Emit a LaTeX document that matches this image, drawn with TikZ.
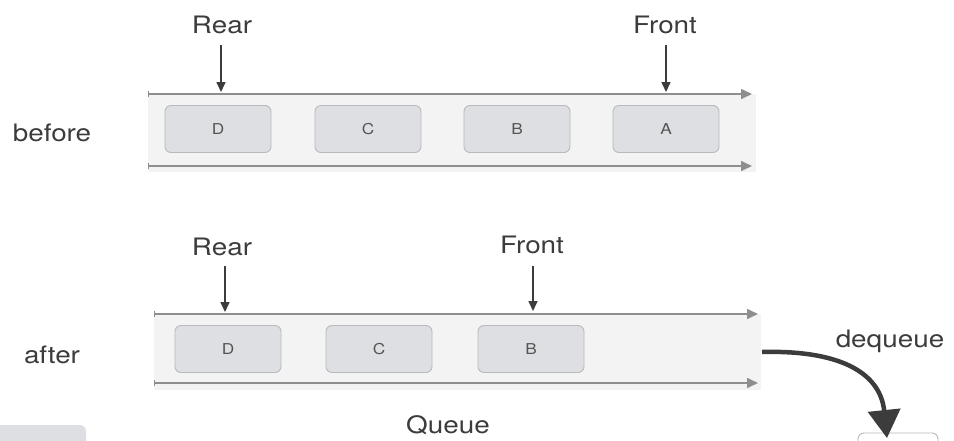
\documentclass[tikz,border=0pt]{standalone}
\usepackage{fontspec}
\setmainfont{TeX Gyre Heros}
\usetikzlibrary{arrows.meta}
\definecolor{railgray}{HTML}{8E8E8E}
\definecolor{stripfill}{HTML}{F3F3F3}
\definecolor{cellfill}{HTML}{DEDFE2}
\definecolor{celledge}{HTML}{B9BABD}
\definecolor{celltext}{HTML}{555555}
\definecolor{inkdark}{HTML}{3C3C3C}
\newcommand{\widetext}[1]{\scalebox{1.15}[1]{#1}}
\tikzset{
  cell/.style={draw=celledge, fill=cellfill, rounded corners=6pt, line width=0.9pt,
    minimum width=106pt, minimum height=47pt, inner sep=0pt,
    font=\fontsize{15}{15}\selectfont, text=celltext},
  caption/.style={inner sep=0pt, text=inkdark, transform shape, xscale=1.16,
    font=\fontsize{24}{24}\selectfont},
  rail/.style={draw=railgray, line width=1.6pt,
    {Bar[width=6pt,line width=1.2pt]}-{Triangle[width=10pt,length=11pt]}},
  pointer/.style={draw=inkdark, line width=1.6pt, -{Triangle[width=9pt,length=10pt]}},
}
\begin{document}
\begin{tikzpicture}[x=1pt,y=-1pt]
\useasboundingbox (0,0) rectangle (954,440);
\fill[white] (0,0) rectangle (954,440);

% ---- queue before dequeue ----
\fill[stripfill] (148,94) rectangle (756,172);
\coordinate (bt0) at (148,94);  \coordinate (bt1) at (752,94);
\coordinate (bb0) at (148,166); \coordinate (bb1) at (752,166);
\draw[rail] (bt0) -- (bt1);
\draw[rail] (bb0) -- (bb1);
\node[cell] (bD) at (218,129) {\widetext{D}};
\node[cell] (bC) at (368,129) {\widetext{C}};
\node[cell] (bB) at (517,129) {\widetext{B}};
\node[cell] (bA) at (666,129) {\widetext{A}};
\node[caption] (bRear) at (222,25) {Rear};
\node[caption] (bFront) at (665,25) {Front};
\coordinate (bRearTip) at (221,92);
\coordinate (bFrontTip) at (666,92);
\draw[pointer] (221,45) -- (bRearTip);
\draw[pointer] (666,45) -- (bFrontTip);
\node[caption] (lbefore) at (52,133) {before};

% ---- queue after dequeue ----
\fill[stripfill] (154,314) rectangle (761,390);
\coordinate (at0) at (154,314); \coordinate (at1) at (758,314);
\coordinate (ab0) at (154,383); \coordinate (ab1) at (758,383);
\draw[rail] (at0) -- (at1);
\draw[rail] (ab0) -- (ab1);
\node[cell] (aD) at (228,349) {\widetext{D}};
\node[cell] (aC) at (379,349) {\widetext{C}};
\node[cell] (aB) at (531,349) {\widetext{B}};
\node[caption] (aRear) at (222,247) {Rear};
\node[caption] (aFront) at (532,245) {Front};
\draw[pointer] (225,266) -- (225,312);
\draw[pointer] (533,266) -- (533,311);
\node[caption] (lafter) at (52,355) {after};
\node[caption] (lqueue) at (448,425) {Queue};
\node[caption] (ldeq) at (890,341) {dequeue};

% ---- dequeued element leaving the queue ----
\fill[cellfill, rounded corners=6pt] (-10,425) rectangle (86,460);
\draw[celledge, line width=0.9pt, rounded corners=6pt] (858,433) rectangle (938,470);
\coordinate (deqStart) at (762,352);
\coordinate (deqEnd) at (887,438);
\draw[inkdark, line width=4.5pt, -{Triangle[width=32pt,length=28pt]}]
  (deqStart) .. controls (835,350) and (880,370) .. (deqEnd);
\end{tikzpicture}
\end{document}
